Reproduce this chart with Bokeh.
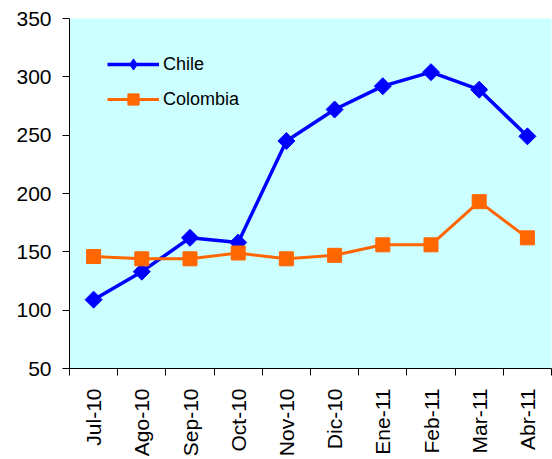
import math
from bokeh.plotting import figure
from bokeh.models import Range1d, FixedTicker, Legend, LegendItem
from bokeh.embed import file_html
from bokeh.resources import INLINE

months = ["Jul-10", "Ago-10", "Sep-10", "Oct-10", "Nov-10", "Dic-10",
          "Ene-11", "Feb-11", "Mar-11", "Abr-11"]
chile = [109, 133, 162, 158, 245, 272, 292, 304, 289, 249]
colombia = [146, 144, 144, 149, 144, 147, 156, 156, 193, 162]
y_ticks = [50, 100, 150, 200, 250, 300, 350]

n = len(months)
xs = list(range(1, n + 1))

FONT = "Liberation Sans"

p = figure(width=552, height=459, output_backend="svg", toolbar_location=None,
           title=None,
           x_range=Range1d(0.5, n + 0.5), y_range=Range1d(y_ticks[0], y_ticks[-1]),
           min_border_left=69, min_border_right=1, min_border_top=18,
           min_border_bottom=89)

p.background_fill_color = "#CCFFFF"
p.border_fill_color = "white"
p.outline_line_color = None
p.xgrid.visible = False
p.ygrid.visible = False

r1 = p.line(xs, chile, line_color="#0000FF", line_width=3.5)
# diamond marker used for the legend symbol (covered by the rotated squares)
r1leg = p.scatter(xs, chile, marker="diamond", size=9,
                  fill_color="#0000FF", line_color="#0000FF")
r1m = p.scatter(xs, chile, marker="square", angle=math.pi / 4, size=12,
                fill_color="#0000FF", line_color="#0000FF")
r2 = p.line(xs, colombia, line_color="#FF6600", line_width=3)
r2m = p.scatter(xs, colombia, marker="square", size=14,
                fill_color="#FF6600", line_color="#FF6600")

# x axis
xa = p.xaxis[0]
xa.ticker = FixedTicker(ticks=xs, minor_ticks=[i + 0.5 for i in range(n + 1)])
xa.major_label_overrides = {x: m for x, m in zip(xs, months)}
xa.major_label_orientation = math.pi / 2
xa.major_tick_out = 0
xa.major_tick_in = 0
xa.minor_tick_out = 7
xa.minor_tick_in = 0
xa.minor_tick_line_color = "black"
xa.axis_line_color = "black"
xa.major_label_standoff = 13
xa.major_label_text_font = FONT
xa.major_label_text_font_size = "21px"
xa.major_label_text_color = "black"

# y axis
ya = p.yaxis[0]
ya.ticker = FixedTicker(ticks=y_ticks)
ya.major_tick_out = 7
ya.major_tick_in = 0
ya.minor_tick_line_color = None
ya.axis_line_color = "black"
ya.major_tick_line_color = "black"
ya.major_label_standoff = 11
ya.major_label_text_font = FONT
ya.major_label_text_font_size = "21px"
ya.major_label_text_color = "black"

legend = Legend(items=[LegendItem(label="Chile", renderers=[r1, r1leg]),
                       LegendItem(label="Colombia", renderers=[r2, r2m])],
                location=(38, 254))
legend.background_fill_alpha = 0
legend.border_line_color = None
legend.padding = 0
legend.margin = 0
legend.spacing = 5
legend.glyph_width = 52
legend.glyph_height = 28
legend.label_height = 30
legend.label_standoff = 4
legend.label_text_font = FONT
legend.label_text_font_size = "18px"
legend.label_text_color = "black"
p.add_layout(legend)

open("out.html", "w").write(file_html(p, INLINE))
